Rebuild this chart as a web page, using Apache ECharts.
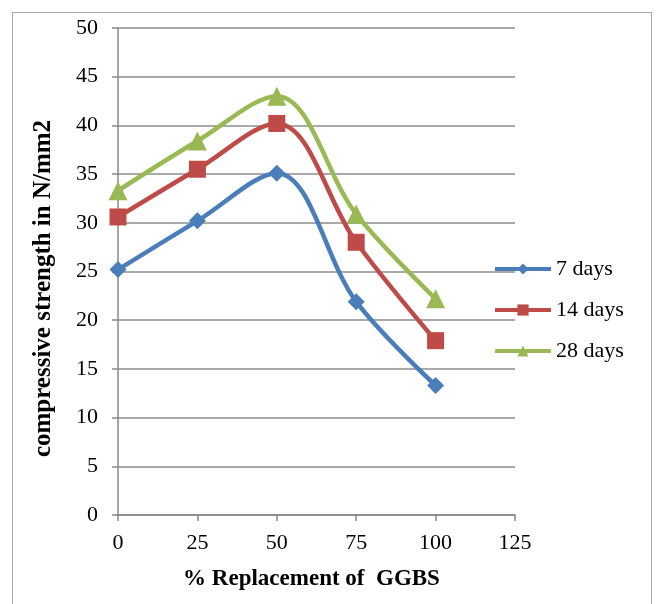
<!DOCTYPE html>
<html>
<head>
<meta charset="utf-8">
<script src="https://cdn.jsdelivr.net/npm/echarts@6/dist/echarts.min.js"></script>
<style>
html,body{margin:0;padding:0;background:#fff;}
#frame{position:absolute;left:12px;top:12px;width:640px;height:600px;border:1px solid #aaaaaa;box-sizing:border-box;}
#c{position:absolute;left:0;top:0;width:660px;height:604px;}
</style>
</head>
<body>
<div id="frame"></div>
<div id="c"></div>
<script>
const xValues = [0, 25, 50, 75, 100];
const days7 = [25.2, 30.2, 35.1, 21.9, 13.3];
const days14 = [30.6, 35.5, 40.2, 28.0, 17.9];
const days28 = [33.3, 38.4, 43.0, 30.9, 22.2];
const seriesNames = ['7 days', '14 days', '28 days'];

const chart = echarts.init(document.getElementById('c'), null, {renderer: 'canvas'});
const font = '"Liberation Serif", "Times New Roman", serif';
function pairs(arr){ return xValues.map((x, i) => [x, arr[i]]); }
const colors = ['#4a7ebb', '#be4b48', '#98b954'];
const symbols = ['diamond', 'rect', 'triangle'];
const sizes = [17, 17, 19];
const dataSets = [days7, days14, days28];

chart.setOption({
  animation: false,
  grid: {left: 118, top: 28, width: 397, height: 487},
  legend: {
    orient: 'vertical',
    left: 493, top: 258, padding: 0,
    itemWidth: 56, itemHeight: 14, itemGap: 19,
    data: seriesNames,
    lineStyle: {width: 4},
    textStyle: {fontFamily: font, fontSize: 22, color: '#000'}
  },
  xAxis: {
    type: 'value', min: 0, max: 125, interval: 25,
    name: '% Replacement of  GGBS', nameLocation: 'middle', nameGap: 53,
    nameTextStyle: {fontFamily: font, fontSize: 23, fontWeight: 'bold', color: '#000', padding: [0, 10, 0, 0]},
    axisLine: {show: true, lineStyle: {color: '#888', width: 1.5}},
    axisTick: {show: true, length: 6, lineStyle: {color: '#888', width: 1.5}},
    axisLabel: {fontFamily: font, fontSize: 22, color: '#000', margin: 17},
    splitLine: {show: false}
  },
  yAxis: {
    type: 'value', min: 0, max: 50, interval: 5,
    name: 'compressive strength in N/mm2', nameLocation: 'middle', nameGap: 62,
    nameTextStyle: {fontFamily: font, fontSize: 25, fontWeight: 'bold', color: '#000', padding: [0, 34, 0, 0]},
    axisLine: {show: true, lineStyle: {color: '#888', width: 1.5}},
    axisTick: {show: true, length: 6, lineStyle: {color: '#888', width: 1.5}},
    axisLabel: {fontFamily: font, fontSize: 22, color: '#000', margin: 20},
    splitLine: {show: true, lineStyle: {color: '#8c8c8c', width: 1.5}}
  },
  series: seriesNames.map((n, i) => ({
    name: n, type: 'line', smooth: 0.35,
    data: pairs(dataSets[i]),
    symbol: symbols[i], symbolSize: sizes[i],
    lineStyle: {color: colors[i], width: 4.5},
    itemStyle: {color: colors[i]},
    z: 3 - i
  }))
});
</script>
</body>
</html>
